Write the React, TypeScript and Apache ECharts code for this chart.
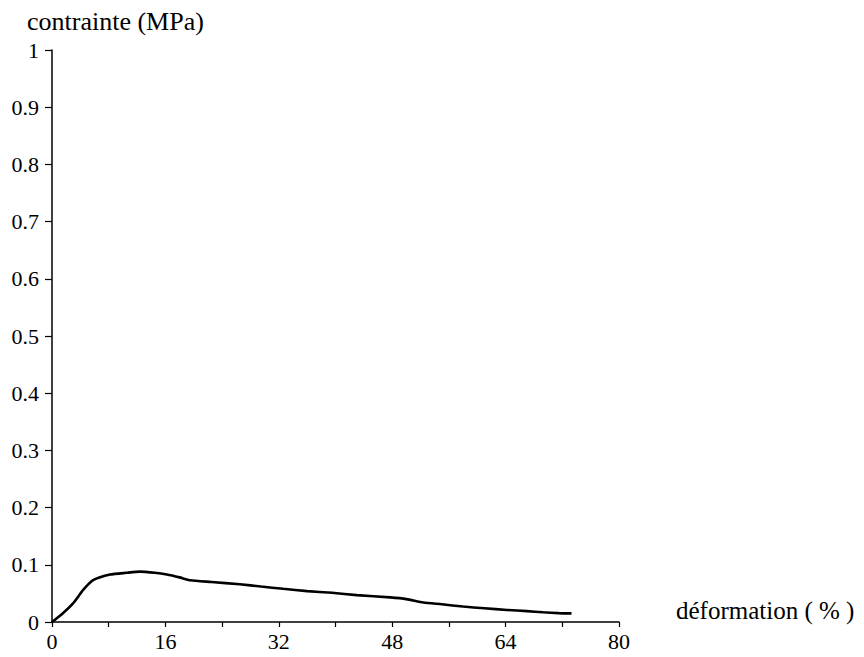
import React, { useEffect, useRef } from "react";
import * as echarts from "echarts";

const strainPct = [0, 1.5, 3, 4.4, 5.8, 8.2, 10.5, 12.4, 14.5, 16.2, 18, 19.5, 22.5, 26.5, 29.5, 32.6, 36, 39.5, 43, 47.7, 50, 52.4, 55, 58, 61, 64.2, 67, 69.3, 71.5, 73.3];
const stressMPa = [0, 0.015, 0.033, 0.056, 0.073, 0.083, 0.086, 0.088, 0.086, 0.083, 0.078, 0.073, 0.07, 0.066, 0.062, 0.058, 0.054, 0.051, 0.047, 0.043, 0.04, 0.034, 0.031, 0.027, 0.024, 0.021, 0.019, 0.017, 0.0155, 0.015];
const yTitle = "contrainte (MPa)";
const xTitle = "déformation ( % )";

const FONT = "Liberation Serif";

export default function App() {
  const ref = useRef<HTMLDivElement>(null);
  useEffect(() => {
    if (!ref.current) return;
    const chart = echarts.init(ref.current, undefined, { renderer: "svg" });
    const data = strainPct.map((x, i) => [x, stressMPa[i]]);
    chart.setOption({
      animation: false,
      backgroundColor: "#ffffff",
      textStyle: { fontFamily: FONT },
      grid: { left: 52, right: 245, top: 50, bottom: 35, containLabel: false },
      xAxis: {
        type: "value",
        min: 0,
        max: 80,
        interval: 8,
        splitLine: { show: false },
        axisLine: { show: true, onZero: false, lineStyle: { color: "#000", width: 1.5 } },
        axisTick: { show: true, length: 5, lineStyle: { color: "#000", width: 1.2 } },
        axisLabel: {
          color: "#000",
          fontFamily: FONT,
          fontSize: 22,
          margin: 8,
          formatter: (v: number) => (v % 16 === 0 ? String(v) : ""),
        },
      },
      yAxis: {
        type: "value",
        min: 0,
        max: 1,
        interval: 0.1,
        splitLine: { show: false },
        axisLine: { show: true, onZero: false, lineStyle: { color: "#000", width: 1.5 } },
        axisTick: { show: true, length: 7, lineStyle: { color: "#000", width: 1.2 } },
        axisLabel: {
          color: "#000",
          fontFamily: FONT,
          fontSize: 22,
          margin: 13,
          formatter: (v: number) => String(Math.round(v * 10) / 10),
        },
      },
      graphic: [
        {
          type: "text",
          left: 27,
          top: 8,
          style: { text: yTitle, fill: "#000", fontFamily: FONT, fontSize: 26 },
        },
        {
          type: "text",
          left: 676,
          top: 598,
          style: { text: xTitle, fill: "#000", fontFamily: FONT, fontSize: 25 },
        },
      ],
      series: [
        {
          type: "line",
          data,
          smooth: 0.2,
          showSymbol: false,
          lineStyle: { color: "#000", width: 2.6 },
        },
      ],
    });
    return () => chart.dispose();
  }, []);
  return (
    <div
      ref={ref}
      style={{ position: "fixed", left: 0, top: 0, width: 864, height: 657, background: "#fff" }}
    />
  );
}
